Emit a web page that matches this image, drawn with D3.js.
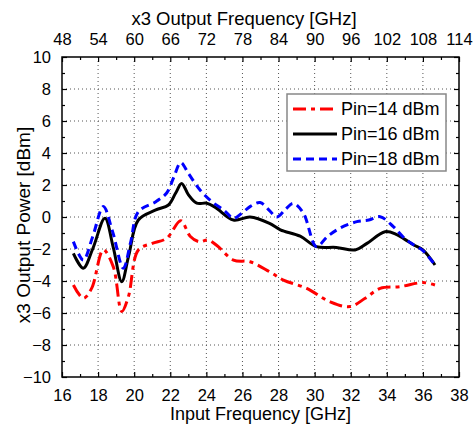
<!DOCTYPE html>
<html>
<head>
<meta charset="utf-8">
<script src="https://cdn.jsdelivr.net/npm/d3@7"></script>
<style>
  body{margin:0;background:#fff;}
  text{font-family:"Liberation Sans",Arial,sans-serif;fill:#000;}
</style>
</head>
<body>
<div id="chart"></div>
<script>
// input frequency [GHz] and output power [dBm]
var fPin14 = [16.63,17.18,17.64,18.29,18.84,19.31,19.68,20.23,21.0,21.8,22.58,23.1,23.6,24.1,24.6,25.5,26.42,27.5,28.27,29.56,30.86,31.96,32.8,33.63,34.74,36.0,36.67];
var pPin14 = [-4.25,-5.08,-4.46,-2.06,-3.1,-5.9,-4.98,-2.06,-1.65,-1.33,-0.23,-1.2,-1.55,-1.44,-1.8,-2.69,-2.8,-3.42,-3.94,-4.46,-5.3,-5.6,-5.08,-4.46,-4.35,-4.1,-4.25];

var fPin16 = [16.63,17.18,17.7,18.38,18.84,19.31,19.7,20.23,21.2,21.9,22.3,22.63,23.0,23.47,24.02,24.5,25.5,26.42,27.5,28.1,29.2,30.1,31.2,32.24,32.9,33.9,34.55,35.0,35.5,36.0,36.67];
var pPin16 = [-2.27,-3.2,-2.0,-0.08,-1.9,-4.04,-2.4,-0.19,0.44,0.75,1.5,2.1,1.4,0.86,0.86,0.6,-0.19,0.0,-0.4,-0.8,-1.2,-1.85,-1.9,-2.06,-1.65,-0.92,-1.1,-1.4,-1.75,-2.06,-3.0];

var fPin18 = [16.63,17.18,17.7,18.29,18.8,19.4,19.8,20.23,21.2,21.8,22.2,22.58,23.0,23.65,24.3,25.0,25.5,26.0,26.42,26.98,27.5,27.9,28.4,28.82,29.38,30.1,30.7,31.4,32.34,33.0,33.63,34.36,35.0,35.5,36.0,36.67];
var pPin18 = [-1.54,-2.69,-1.23,0.65,-0.9,-3.2,-1.6,0.33,0.96,1.5,2.5,3.4,2.73,1.69,0.96,0.4,-0.08,0.27,0.65,0.9,0.4,0.0,0.5,0.85,0.23,-1.85,-1.23,-0.7,-0.29,-0.19,0.02,-0.6,-1.35,-1.75,-2.1,-3.0];

var seriesNames = ["Pin=14 dBm","Pin=16 dBm","Pin=18 dBm"];
var seriesColors = ["#ff0000","#000000","#0000ff"];
var seriesDash = ["13,5,4,5",null,"8,5"];

var xTicks = d3.range(16,39,2);
var yTicks = d3.range(-10,11,2);
var topTicks = d3.range(48,115,6);

var W = 475, H = 432;
var margin = {left:62, right:16, top:57, bottom:55};
var width = W - margin.left - margin.right;
var height = H - margin.top - margin.bottom;

var svg = d3.select("#chart").append("svg")
  .attr("width",W).attr("height",H);

var g = svg.append("g")
  .attr("transform","translate("+margin.left+","+margin.top+")");

var x = d3.scaleLinear().domain([16,38]).range([0,width]);
var xTop = d3.scaleLinear().domain([48,114]).range([0,width]);
var y = d3.scaleLinear().domain([-10,10]).range([height,0]);

//dotted grid
g.append("g").selectAll("line").data(xTicks.slice(1,-1)).enter().append("line")
  .attr("x1",x).attr("x2",x).attr("y1",0).attr("y2",height)
  .attr("stroke","#555").attr("stroke-width",1).attr("stroke-dasharray","1,3");
g.append("g").selectAll("line").data(yTicks.slice(1,-1)).enter().append("line")
  .attr("y1",y).attr("y2",y).attr("x1",0).attr("x2",width)
  .attr("stroke","#555").attr("stroke-width",1).attr("stroke-dasharray","1,3");

//axes with inward ticks
function styleAxis(sel){
  sel.select(".domain").remove();
  sel.selectAll(".tick line").attr("stroke","#000").attr("stroke-width",1.2);
  sel.selectAll(".tick text").style("font-size","16.5px");
}
g.append("g").attr("transform","translate(0,"+height+")")
  .call(d3.axisBottom(x).tickValues(xTicks).tickSize(-5).tickPadding(12).tickFormat(d3.format("d")))
  .call(styleAxis);
g.append("g").attr("transform","translate(0,"+height+")")
  .call(d3.axisBottom(x).tickValues(d3.range(17,38,2)).tickSize(-3).tickFormat(""))
  .call(styleAxis);
g.append("g")
  .call(d3.axisTop(xTop).tickValues(topTicks).tickSize(-5).tickPadding(12).tickFormat(d3.format("d")))
  .call(styleAxis);
g.append("g")
  .call(d3.axisTop(xTop).tickValues(d3.range(51,112,6)).tickSize(-3).tickFormat(""))
  .call(styleAxis);
g.append("g")
  .call(d3.axisLeft(y).tickValues(yTicks).tickSize(-5).tickPadding(11).tickFormat(d3.format("d")))
  .call(styleAxis);
g.append("g")
  .call(d3.axisLeft(y).tickValues(d3.range(-9,10,2)).tickSize(-3).tickFormat(""))
  .call(styleAxis);
g.append("g").attr("transform","translate("+width+",0)")
  .call(d3.axisRight(y).tickValues(yTicks).tickSize(-5).tickFormat(""))
  .call(styleAxis);
g.append("g").attr("transform","translate("+width+",0)")
  .call(d3.axisRight(y).tickValues(d3.range(-9,10,2)).tickSize(-3).tickFormat(""))
  .call(styleAxis);

//curves
var data = [
  d3.zip(fPin14,pPin14),
  d3.zip(fPin16,pPin16),
  d3.zip(fPin18,pPin18)
];
var line = d3.line()
  .x(function(d){return x(d[0]);})
  .y(function(d){return y(d[1]);})
  .curve(d3.curveCatmullRom.alpha(0.5));

[0,1,2].forEach(function(i){
  g.append("path")
    .attr("d",line(data[i]))
    .attr("fill","none")
    .attr("stroke",seriesColors[i])
    .attr("stroke-width",3)
    .attr("stroke-dasharray",seriesDash[i]);
});

//frame
g.append("rect").attr("width",width).attr("height",height)
  .attr("fill","none").attr("stroke","#000").attr("stroke-width",1.5);

//legend
var lg = svg.append("g").attr("transform","translate(287,94)");
lg.append("rect").attr("width",159).attr("height",77)
  .attr("fill","#fff").attr("stroke","#888").attr("stroke-width",1.5);
seriesNames.forEach(function(name,i){
  var ly = 15 + i*25;
  lg.append("line").attr("x1",6).attr("x2",50).attr("y1",ly).attr("y2",ly)
    .attr("stroke",seriesColors[i]).attr("stroke-width",3)
    .attr("stroke-dasharray",seriesDash[i]);
  lg.append("text").attr("x",54).attr("y",ly).attr("dy","0.35em")
    .style("font-size","18px").text(name);
});

//axis titles
svg.append("text").attr("x",244).attr("y",19).attr("dy","0.35em")
  .attr("text-anchor","middle").style("font-size","18.5px").text("x3 Output Frequency [GHz]");
svg.append("text").attr("x",margin.left+width/2).attr("y",414).attr("dy","0.35em")
  .attr("text-anchor","middle").style("font-size","18px").text("Input Frequency [GHz]");
svg.append("text")
  .attr("transform","translate(23,225) rotate(-90)")
  .attr("dy","0.35em").attr("text-anchor","middle").style("font-size","19px")
  .text("x3 Output Power [dBm]");
</script>
</body>
</html>
